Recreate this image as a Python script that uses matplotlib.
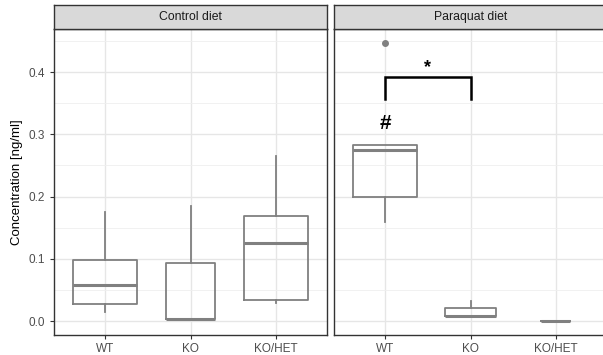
import matplotlib.pyplot as plt

plt.rcParams['font.family'] = ['Liberation Sans', 'DejaVu Sans']

genotypes = ["WT", "KO", "KO/HET"]
panels = ["Control diet", "Paraquat diet"]

# box stats: whislo, q1, med, q3, whishi
control_lo = [0.015, 0.002, 0.029]
control_q1 = [0.027, 0.003, 0.034]
control_med = [0.058, 0.004, 0.126]
control_q3 = [0.099, 0.094, 0.169]
control_hi = [0.175, 0.185, 0.266]
control_width = [0.75, 0.58, 0.75]

paraquat_lo = [0.159, 0.007, 0.001]
paraquat_q1 = [0.199, 0.008, 0.001]
paraquat_med = [0.275, 0.009, 0.001]
paraquat_q3 = [0.283, 0.022, 0.001]
paraquat_hi = [0.283, 0.033, 0.001]
paraquat_width = [0.75, 0.59, 0.34]
paraquat_outliers = [[0.447], [], []]

bracket_y = 0.392
bracket_drop = 0.357
hash_y = 0.317

W, H = 603, 355
fig = plt.figure(figsize=(W / 100, H / 100), dpi=100)

def box(x0, y0, x1, y1):
    return [x0 / W, 1 - y1 / H, (x1 - x0) / W, (y1 - y0) / H]

ax_l = fig.add_axes(box(54, 29, 327, 335))
ax_r = fig.add_axes(box(334, 29, 607, 335))
st_l = fig.add_axes(box(54, 5, 327, 29))
st_r = fig.add_axes(box(334, 5, 607, 29))

box_col = "#808080"

def make_stats(lo, q1, med, q3, hi, outl=None):
    out = []
    for i in range(len(lo)):
        out.append(dict(whislo=lo[i], q1=q1[i], med=med[i], q3=q3[i], whishi=hi[i],
                        fliers=outl[i] if outl else []))
    return out

data = [
    (ax_l, make_stats(control_lo, control_q1, control_med, control_q3, control_hi), control_width),
    (ax_r, make_stats(paraquat_lo, paraquat_q1, paraquat_med, paraquat_q3, paraquat_hi,
                      paraquat_outliers), paraquat_width),
]

for ax, stats, widths in data:
    ax.bxp(stats, positions=[1, 2, 3], widths=widths, showcaps=False, patch_artist=False,
           boxprops=dict(color=box_col, lw=1.3),
           whiskerprops=dict(color=box_col, lw=1.3),
           medianprops=dict(color=box_col, lw=2.2),
           flierprops=dict(marker="o", markerfacecolor=box_col, markeredgecolor=box_col,
                           markersize=4),
           zorder=3)
    ax.set_xlim(0.4, 3.6)
    ax.set_ylim(-0.022, 0.469)
    ax.set_yticks([0.0, 0.1, 0.2, 0.3, 0.4])
    ax.set_yticks([0.05, 0.15, 0.25, 0.35, 0.45], minor=True)
    ax.set_xticks([1, 2, 3])
    ax.set_xticklabels(genotypes)
    ax.grid(which="major", color="#e6e6e6", lw=1.0, zorder=0)
    ax.grid(which="minor", axis="y", color="#efefef", lw=0.6, zorder=0)
    ax.set_axisbelow(True)
    for s in ax.spines.values():
        s.set_color("#333333")
        s.set_linewidth(1.0)
    ax.tick_params(axis="both", which="major", colors="#333333", length=3, width=0.8,
                   labelcolor="#4d4d4d", labelsize=8.5)
    ax.tick_params(axis="y", which="minor", length=0)
    ax.tick_params(axis="x", pad=3)

ax_l.set_yticklabels(["0.0", "0.1", "0.2", "0.3", "0.4"])
ax_r.tick_params(axis="y", which="both", left=False, labelleft=False)
ax_l.set_ylabel("Concentration [ng/ml]", fontsize=9.5, color="black", labelpad=4)

for st, name in zip([st_l, st_r], panels):
    st.set_facecolor("#d9d9d9")
    st.set_xticks([])
    st.set_yticks([])
    for s in st.spines.values():
        s.set_color("#333333")
        s.set_linewidth(1.0)
    st.text(0.5, 0.5, name, ha="center", va="center", fontsize=8.8, color="#1a1a1a",
            transform=st.transAxes)

# significance annotations
ax_r.plot([1, 1, 2, 2], [bracket_drop, bracket_y, bracket_y, bracket_drop], color="black",
          lw=1.8, solid_joinstyle="miter", zorder=4)
ax_r.text(1.5, bracket_y + 0.002, "*", ha="center", va="bottom", fontsize=13,
          fontweight="bold", color="black")
ax_r.text(1, hash_y, "#", ha="center", va="center", fontsize=15, fontweight="bold",
          color="black")

fig.savefig("out.png", dpi=100)
